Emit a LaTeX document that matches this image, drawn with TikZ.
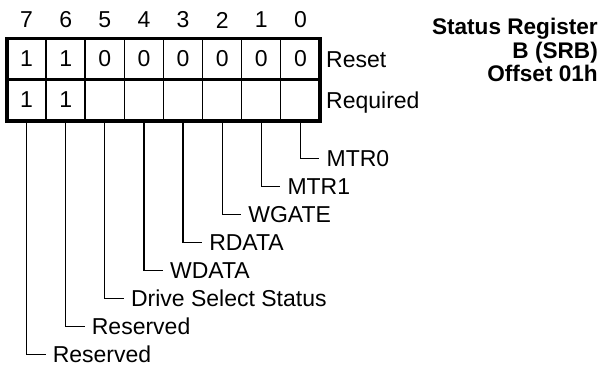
\documentclass[tikz,border=0pt]{standalone}
\usepackage{fontspec}
\setmainfont{Liberation Sans}
\begin{document}
\begin{tikzpicture}[x=1pt,y=-1pt,
  txt/.style={font=\fontsize{23}{27}\selectfont, inner sep=0pt},
  cell/.style={txt, minimum width=39.125pt, minimum height=41pt},
  lbl/.style={txt, anchor=west, inner xsep=7pt, text height=16.4pt, text depth=0pt},
  thinline/.style={line width=1.3pt},
  thickborder/.style={line width=3.6pt, line join=miter, line cap=rect},
  leader/.style={line width=1.3pt},
  ttl/.style={font=\bfseries\fontsize{22.6}{26}\selectfont, anchor=base east, inner sep=0pt}]
\useasboundingbox (0,0) rectangle (604,367);
\foreach \b/\r/\q/\l in {7/1/1/Reserved, 6/1/1/Reserved, 5/0//Drive Select Status, 4/0//WDATA, 3/0//RDATA, 2/0//WGATE, 1/0//MTR1, 0/0//MTR0}{
  \pgfmathsetmacro\cx{7+39.125*(7-\b+0.5)}
  \pgfmathsetmacro\ly{158.3+28*\b}
  \node[txt] (n\b) at (\cx,20) {\b};
  \node[cell] (a\b) at (\cx,59) {\r};
  \node[cell] (q\b) at (\cx,100) {\q};
  \node[lbl] (l\b) at (\cx+19,\ly) {\l};
  \draw[leader] (q\b.south) |- (l\b.west);
}
\foreach \b in {6,...,0}{
  \draw[thinline] (a\b.north west) -- (q\b.south west);
}
\draw[thickborder] (a7.north west) rectangle (q0.south east);
\draw[thickborder] (q7.north west) -- (q0.north east);
\node[txt, anchor=base west] (reset) at (326,67) {Reset};
\node[txt, anchor=base west] (required) at (326,108) {Required};
\node[ttl] (t1) at (598,34.3) {Status Register};
\node[ttl] (t2) at (598,58.3) {B (SRB)};
\node[ttl] (t3) at (598,81.7) {Offset 01h};
\end{tikzpicture}
\end{document}
